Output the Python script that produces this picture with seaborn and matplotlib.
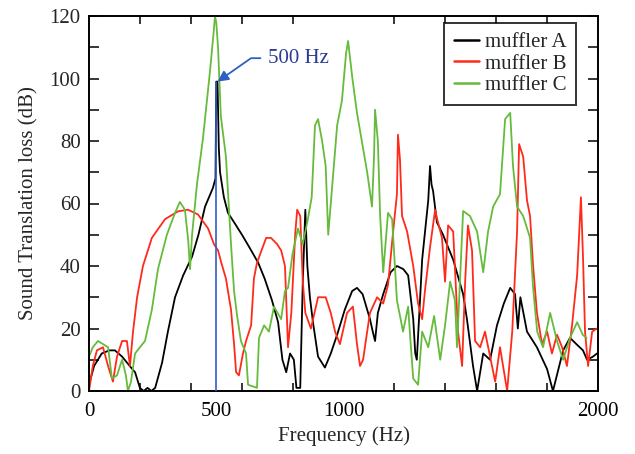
import numpy as np
import pandas as pd
import matplotlib
matplotlib.use("Agg")
import matplotlib.pyplot as plt
import seaborn as sns

# ---------------- data ----------------
freq_A = [0, 20, 50, 80, 102, 130, 160, 181, 200, 215, 230, 245, 260, 287, 310, 338, 370, 405, 430, 456,
          487, 497, 500, 505, 510, 515, 530, 546, 570, 601, 630, 665, 690, 719, 743, 760, 775, 790, 805,
          815, 830, 840, 850, 858, 868, 880, 900, 927, 950, 975, 1005, 1034, 1053, 1075, 1104, 1115, 1124,
          1135, 1156, 1185, 1210, 1235, 1254, 1274, 1282, 1288, 1298, 1309, 1333, 1340, 1346, 1352, 1367,
          1391, 1431, 1470, 1485, 1509, 1525, 1549, 1576, 1603, 1630, 1655, 1674, 1685, 1695, 1721, 1760,
          1800, 1823, 1863, 1890, 1915, 1941, 1957, 1980, 1996]
loss_A = [2, 8, 12, 13, 13, 11, 8, 6, 1, 0, 1, 0, 1, 9, 19, 30, 37, 43, 50, 59,
          65, 68, 99, 99, 78, 70, 62, 57, 54, 50, 46, 41, 36, 29, 22, 10, 6, 12, 10,
          1, 1, 35, 58, 40, 30, 22, 11, 7.5, 12, 18, 26, 32, 33, 31, 23, 19, 16,
          25, 31, 38, 40, 39, 37, 23, 12, 10, 25, 42, 61, 72, 66, 64, 54,
          50, 42, 31, 23, 8, 0, 12, 10, 21, 28, 33, 31, 20, 30, 19, 14,
          7, 0, 13, 17, 15, 13, 10, 11, 12]

freq_B = [0, 15, 31, 55, 75, 94, 110, 130, 149, 161, 173, 189, 212, 247, 299, 350, 389, 428, 468, 491,
          507, 520, 538, 558, 570, 578, 589, 605, 617, 637, 648, 660, 696, 715, 739, 755, 770, 782, 795,
          810, 818, 830, 840, 850, 872, 900, 930, 950, 967, 986, 1014, 1037, 1053, 1065, 1077, 1093, 1104,
          1132, 1156, 1175, 1195, 1210, 1214, 1222, 1230, 1250, 1274, 1293, 1309, 1320, 1340, 1360, 1368,
          1387, 1399, 1411, 1431, 1450, 1466, 1478, 1489, 1505, 1517, 1537, 1556, 1576, 1596, 1615, 1627,
          1643, 1663, 1682, 1690, 1706, 1721, 1733, 1745, 1760, 1780, 1800, 1819, 1839, 1859, 1878, 1898,
          1918, 1933, 1941, 1949, 1961, 1977, 1996]
loss_B = [0, 8, 13, 14, 8, 3, 11, 16, 16, 8, 19, 30, 40, 49, 55, 57.5, 58, 56.5, 52, 47,
          45, 41, 36, 26, 15, 6, 5, 12, 16, 21, 36, 41, 49, 49, 47, 45, 40, 14, 25,
          50, 58, 56, 35, 25, 20, 30, 30, 25, 19, 15, 25, 27, 15, 8, 10, 19, 25,
          30, 28, 34, 51, 63, 82, 74, 56, 51, 40, 28, 23, 32, 46, 58, 55,
          49, 35, 53, 51, 19, 8, 35, 53, 45, 16, 14, 19, 11, 3, 14, 8,
          0, 19, 51, 79, 75, 61, 56, 40, 25, 15, 19, 12, 18, 14, 8, 21,
          37, 62, 43, 19, 8, 19, 20]

freq_C = [0, 15, 35, 55, 75, 90, 110, 130, 145, 153, 165, 181, 200, 220, 247, 271, 306, 338, 357, 377,
          390, 397, 405, 424, 448, 475, 490, 495, 500, 507, 518, 538, 558, 570, 582, 597, 617, 625, 660,
          668, 688, 707, 727, 755, 770, 782, 800, 821, 840, 860, 875, 888, 900, 916, 930, 940, 955, 975,
          994, 1010, 1018, 1035, 1053, 1093, 1112, 1120, 1124, 1135, 1144, 1156, 1175, 1191, 1210, 1234,
          1254, 1264, 1274, 1293, 1309, 1333, 1356, 1380, 1399, 1419, 1438, 1446, 1470, 1497, 1525, 1549,
          1568, 1588, 1615, 1635, 1655, 1666, 1682, 1706, 1733, 1745, 1761, 1784, 1812, 1839, 1863, 1890,
          1918, 1940, 1955]
loss_C = [11, 14, 16, 15, 14, 4, 5, 10, 5, 0, 3, 12, 14, 16, 26, 39, 50, 57, 60.5, 58,
          48, 39, 50, 66, 81, 102, 115, 120, 118, 110, 88, 75, 47, 32, 24, 16, 12, 2, 1,
          17, 21, 19, 27, 23, 32, 33, 44, 52, 47, 55, 62, 85, 87, 80, 72, 50, 65, 85,
          93, 108, 112, 100, 89, 70, 59, 75, 90, 80, 56, 38, 57, 55, 29, 19,
          27, 15, 4, 2, 19, 14, 24, 10, 21, 35, 29, 14, 57.6, 56, 51, 38,
          51, 59, 63, 87, 89, 72, 59, 56, 49, 33, 19, 14, 25, 16, 10, 17,
          22, 18, 17]

series_names = ["muffler A", "muffler B", "muffler C"]
series_colors = ["#000000", "#ff2a1a", "#66bb3c"]
marker_freq = 500
marker_level = 99
marker_text = "500 Hz"
xtick_labels = [0, 500, 1000, 2000]

# ---------------- build long table ----------------
frames = []
for name, f, v in zip(series_names, [freq_A, freq_B, freq_C], [loss_A, loss_B, loss_C]):
    frames.append(pd.DataFrame({"freq": f, "loss": v, "series": name}))
df = pd.concat(frames, ignore_index=True)

sns.set_style("ticks")
plt.rcParams["font.family"] = ["Liberation Serif", "DejaVu Serif"]
plt.rcParams["mathtext.fontset"] = "stix"

fig = plt.figure(figsize=(6.35, 4.54), dpi=100)
ax = fig.add_axes([89 / 635, 1 - 391 / 454, 509 / 635, 375 / 454])

sns.lineplot(data=df, x="freq", y="loss", hue="series", palette=dict(zip(series_names, series_colors)),
             estimator=None, sort=False, linewidth=1.3, ax=ax)

# marker line & annotation
blue = "#2f5fc4"
ax.plot([marker_freq, marker_freq], [0, marker_level], color=blue, linewidth=1.2, zorder=5)
ax.annotate(marker_text, xy=(marker_freq + 5, marker_level), xytext=(703, 106.5),
            color="#2b3a92", fontsize=15, ha="left", va="center",
            arrowprops=dict(arrowstyle="-|>", color=blue, lw=1.3, mutation_scale=16,
                            connectionstyle="angle,angleA=0,angleB=35,rad=0",
                            shrinkA=3, shrinkB=0))

ax.set_xlim(0, 2000)
ax.set_ylim(0, 120)

ax.set_xticks(xtick_labels)
ax.set_xticklabels([str(v) for v in xtick_labels])
ax.set_xticks(np.arange(0, 2001, 200), minor=True)
ax.tick_params(axis="x", which="major", length=0, labelsize=15, pad=8, colors="black")
ax.tick_params(axis="x", which="minor", direction="in", length=6, width=1.3, top=True, bottom=True)

ax.set_yticks(np.arange(0, 121, 10))
ax.set_yticklabels([str(v) if v % 20 == 0 else "" for v in range(0, 121, 10)])
ax.tick_params(axis="y", which="major", direction="in", length=7, width=1.3, left=True, right=True,
               labelsize=15, pad=6)

for s in ax.spines.values():
    s.set_linewidth(1.4)
    s.set_color("black")

ax.set_xlabel("Frequency (Hz)", fontsize=15, labelpad=4)
ax.set_ylabel("Sound Translation loss (dB)", fontsize=15, labelpad=8)

leg = ax.legend(loc="upper right", bbox_to_anchor=(0.957, 0.981), borderaxespad=0, fontsize=15,
                handlelength=1.2, handletextpad=0.3, labelspacing=0.1, borderpad=0.45,
                frameon=True, fancybox=False, title=None)
leg.get_frame().set_edgecolor("black")
leg.get_frame().set_linewidth(1.4)
for line in leg.get_lines():
    line.set_linewidth(1.8)

fig.savefig("out.png", dpi=100)
